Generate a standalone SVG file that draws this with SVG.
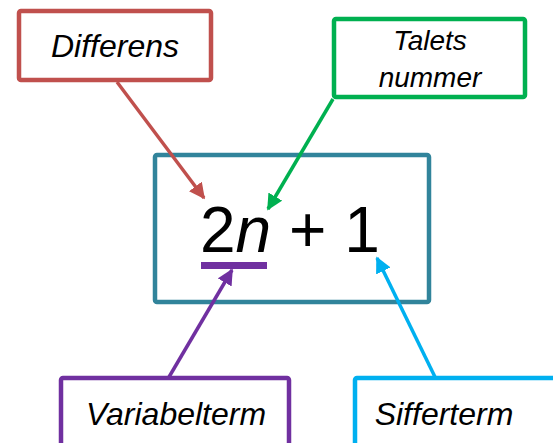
<svg xmlns="http://www.w3.org/2000/svg" width="553" height="443" viewBox="0 0 553 443">
<style>
.box{fill:#fff;stroke-width:4.5;}
.lbl{font-family:"Liberation Sans",Arial,sans-serif;font-style:italic;fill:#000;text-anchor:middle;}
.con{fill:none;stroke-width:3.5;}
</style>
<defs>
<marker id="mr" viewBox="0 0 10 10" refX="9" refY="5" markerWidth="16" markerHeight="16" markerUnits="userSpaceOnUse" orient="auto"><path d="M0,0 L10,5 L0,10 z" fill="#C0504D"/></marker>
<marker id="mg" viewBox="0 0 10 10" refX="9" refY="5" markerWidth="16" markerHeight="16" markerUnits="userSpaceOnUse" orient="auto"><path d="M0,0 L10,5 L0,10 z" fill="#00B050"/></marker>
<marker id="mp" viewBox="0 0 10 10" refX="9" refY="5" markerWidth="16" markerHeight="16" markerUnits="userSpaceOnUse" orient="auto"><path d="M0,0 L10,5 L0,10 z" fill="#7030A0"/></marker>
<marker id="mc" viewBox="0 0 10 10" refX="9" refY="5" markerWidth="16" markerHeight="16" markerUnits="userSpaceOnUse" orient="auto"><path d="M0,0 L10,5 L0,10 z" fill="#00B0F0"/></marker>
</defs>
<rect width="553" height="443" fill="#fff"/>
<g id="main">
<rect class="box" x="155" y="155" width="274" height="147" rx="2" stroke="#31849B"/>
<text x="200" y="252" font-family="Liberation Sans,Arial,sans-serif" font-size="64" fill="#000">2<tspan font-style="italic">n</tspan> + 1</text>
<rect x="201" y="262" width="66" height="7" fill="#7030A0"/>
</g>
<g id="differens">
<rect class="box" x="19" y="11" width="192" height="69" rx="2" stroke="#C0504D"/>
<text class="lbl" x="115" y="57" font-size="32">Differens</text>
</g>
<g id="talets">
<rect class="box" x="334" y="19" width="191" height="78" rx="2" stroke="#00B050"/>
<text class="lbl" x="430" y="50" font-size="28">Talets</text>
<text class="lbl" x="430" y="87" font-size="28">nummer</text>
</g>
<g id="variabelterm">
<rect class="box" x="61" y="378" width="228" height="80" rx="2" stroke="#7030A0"/>
<text class="lbl" x="176" y="425" font-size="32">Variabelterm</text>
</g>
<g id="sifferterm">
<rect class="box" x="355" y="378" width="220" height="80" rx="2" stroke="#00B0F0"/>
<text class="lbl" x="444" y="425" font-size="32">Sifferterm</text>
</g>
<g id="connectors">
<line class="con" x1="117" y1="82" x2="204" y2="198" stroke="#C0504D" marker-end="url(#mr)"/>
<line class="con" x1="333" y1="99" x2="268" y2="209" stroke="#00B050" marker-end="url(#mg)"/>
<line class="con" x1="169" y1="377" x2="232" y2="270" stroke="#7030A0" marker-end="url(#mp)"/>
<line class="con" x1="435" y1="377" x2="377" y2="258" stroke="#00B0F0" marker-end="url(#mc)"/>
</g>
</svg>
